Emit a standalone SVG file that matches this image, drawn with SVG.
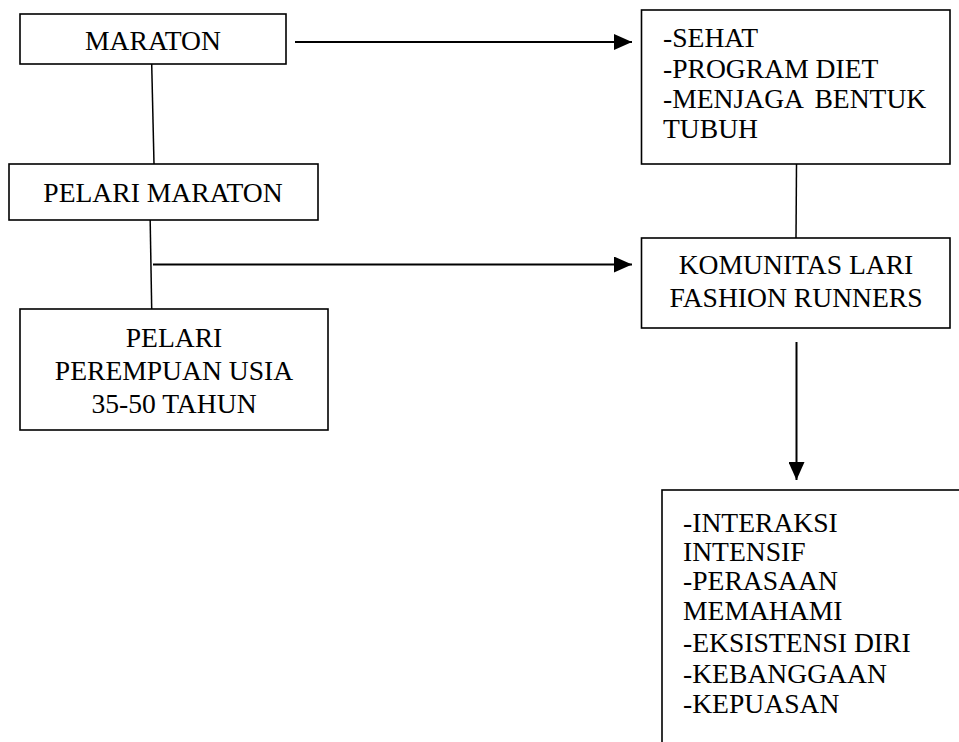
<svg xmlns="http://www.w3.org/2000/svg" width="959" height="742" viewBox="0 0 959 742">
<defs>
<style>
.box{fill:#fff;stroke:#000;stroke-width:1.6}
.t{font-family:"Liberation Serif","Times New Roman","DejaVu Serif",serif;font-size:27.6px;fill:#000}
.c{text-anchor:middle}
.ln{stroke:#000;stroke-width:1.5;fill:none}
.ar{stroke:#000;stroke-width:2;fill:none}
</style>
<marker id="ah" markerWidth="9" markerHeight="8" refX="9" refY="4" orient="auto" markerUnits="strokeWidth"><path d="M0,0 L9,4 L0,8 Z" fill="#000"/></marker>
</defs>
<rect width="959" height="742" fill="#fff"/>
<g id="connectors">
<line class="ln" x1="151.7" y1="64" x2="154" y2="164"/>
<line class="ln" x1="150" y1="210" x2="151.7" y2="309"/>
<line class="ar" x1="153" y1="264.5" x2="632" y2="264.5" marker-end="url(#ah)"/>
<line class="ar" x1="295" y1="42" x2="632" y2="42" marker-end="url(#ah)"/>
<line class="ln" x1="796.5" y1="164" x2="796" y2="238"/>
<line class="ar" x1="796.5" y1="342" x2="796.5" y2="480" marker-end="url(#ah)"/>
</g>
<g id="maraton">
<rect class="box" x="20" y="14" width="266" height="50"/>
<text class="t c" x="153" y="50">MARATON</text>
</g>
<g id="pelari-maraton">
<rect class="box" x="9" y="164" width="309" height="56"/>
<text class="t c" x="163" y="201.5">PELARI MARATON</text>
</g>
<g id="pelari-perempuan">
<rect class="box" x="20" y="309" width="308" height="121"/>
<text class="t c" x="174" y="346.5">PELARI</text>
<text class="t c" x="174" y="379.5">PEREMPUAN USIA</text>
<text class="t c" x="174" y="412.5">35-50 TAHUN</text>
</g>
<g id="tujuan">
<rect class="box" x="641.5" y="10" width="308.5" height="154"/>
<text class="t" x="663" y="47">-SEHAT</text>
<text class="t" x="663" y="78">-PROGRAM DIET</text>
<text class="t" x="663" y="108" word-spacing="5">-MENJAGA BENTUK</text>
<text class="t" x="663" y="138">TUBUH</text>
</g>
<g id="komunitas">
<rect class="box" x="641.5" y="238" width="308.5" height="90"/>
<text class="t c" x="796" y="274">KOMUNITAS LARI</text>
<text class="t c" x="796" y="306.5">FASHION RUNNERS</text>
</g>
<g id="hasil">
<rect class="box" x="662" y="490" width="320" height="280"/>
<text class="t" x="683" y="532">-INTERAKSI</text>
<text class="t" x="683" y="561">INTENSIF</text>
<text class="t" x="683" y="590">-PERASAAN</text>
<text class="t" x="683" y="620">MEMAHAMI</text>
<text class="t" x="683" y="651.5">-EKSISTENSI DIRI</text>
<text class="t" x="683" y="683">-KEBANGGAAN</text>
<text class="t" x="683" y="713">-KEPUASAN</text>
</g>
</svg>
